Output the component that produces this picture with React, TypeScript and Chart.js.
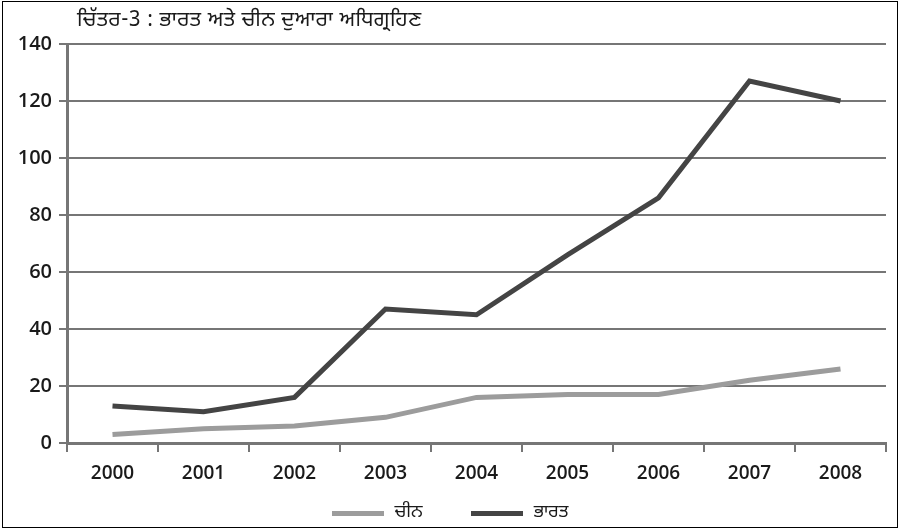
import React, { useEffect, useRef } from "react";
import { Chart, registerables } from "chart.js";

Chart.register(...registerables);

const years = ["2000", "2001", "2002", "2003", "2004", "2005", "2006", "2007", "2008"];
const chinaValues = [3, 5, 6, 9, 16, 17, 17, 22, 26];
const indiaValues = [13, 11, 16, 47, 45, 66, 86, 127, 120];
const yMin = 0;
const yMax = 140;
const yStep = 20;
const titleText = "ਚਿੱਤਰ-3 : ਭਾਰਤ ਅਤੇ ਚੀਨ ਦੁਆਰਾ ਅਧਿਗ੍ਰਹਿਣ";
const chinaLabel = "ਚੀਨ";
const indiaLabel = "ਭਾਰਤ";

const chinaColor = "#9c9c9c";
const indiaColor = "#444444";
const gridColor = "#767676";
const axisColor = "#767676";
const gurmukhiFont = '"Noto Sans Gurmukhi", "Lohit Gurmukhi", "Raavi", "FreeSans", "Noto Sans", sans-serif';
const numFont = '"Open Sans", "Noto Sans", sans-serif';

const legendItems = [
  { label: chinaLabel, color: chinaColor },
  { label: indiaLabel, color: indiaColor },
];

export default function App() {
  const canvasRef = useRef<HTMLCanvasElement | null>(null);

  useEffect(() => {
    const canvas = canvasRef.current;
    if (!canvas) return;
    const chart = new Chart(canvas, {
      type: "line",
      data: {
        labels: years,
        datasets: [
          {
            label: chinaLabel,
            data: chinaValues,
            borderColor: chinaColor,
            backgroundColor: chinaColor,
            borderWidth: 5,
            pointRadius: 0,
            tension: 0,
          },
          {
            label: indiaLabel,
            data: indiaValues,
            borderColor: indiaColor,
            backgroundColor: indiaColor,
            borderWidth: 5,
            pointRadius: 0,
            tension: 0,
          },
        ],
      },
      options: {
        animation: false,
        responsive: false,
        maintainAspectRatio: false,
        layout: { padding: { left: 7, right: 14, top: 44, bottom: 0 } },
        plugins: {
          legend: { display: false },
          title: { display: false },
          tooltip: { enabled: false },
        },
        scales: {
          x: {
            offset: true,
            grid: {
              display: true,
              drawOnChartArea: false,
              drawTicks: true,
              offset: true,
              color: axisColor,
              lineWidth: 2,
              tickLength: 9,
            },
            border: { display: true, color: axisColor, width: 3 },
            ticks: {
              padding: 10,
              color: "#1a1a1a",
              font: { family: numFont, size: 19, weight: 600 },
              maxRotation: 0,
            },
            afterFit: (scale: any) => {
              scale.height = 86;
            },
          },
          y: {
            min: yMin,
            max: yMax,
            ticks: {
              stepSize: yStep,
              padding: 7,
              color: "#1a1a1a",
              font: { family: numFont, size: 20, weight: 600 },
            },
            grid: {
              color: gridColor,
              lineWidth: 2,
              drawTicks: true,
              tickLength: 8,
            },
            border: { display: true, color: axisColor, width: 3 },
            afterFit: (scale: any) => {
              scale.width = 60;
            },
          },
        },
      },
    });
    return () => chart.destroy();
  }, []);

  return (
    <div
      style={{
        position: "fixed",
        left: 0,
        top: 0,
        width: 900,
        height: 529,
        background: "#ffffff",
        overflow: "hidden",
      }}
    >
      <canvas
        ref={canvasRef}
        width={900}
        height={529}
        style={{ position: "absolute", left: 0, top: 0, width: 900, height: 529, display: "block" }}
      />
      <div
        style={{
          position: "absolute",
          left: 77,
          top: 7,
          fontFamily: gurmukhiFont,
          fontSize: 21,
          color: "#1a1a1a",
          whiteSpace: "nowrap",
          lineHeight: "28px",
          letterSpacing: 0.5,
        }}
      >
        {titleText}
      </div>
      <div
        style={{
          position: "absolute",
          left: 0,
          right: 0,
          top: 500,
          height: 26,
          display: "flex",
          justifyContent: "center",
          alignItems: "center",
          fontFamily: gurmukhiFont,
          fontSize: 18,
          color: "#1a1a1a",
        }}
      >
        {legendItems.map((item, i) => (
          <div
            key={item.label}
            style={{ display: "flex", alignItems: "center", marginLeft: i === 0 ? 0 : 48 }}
          >
            <span
              style={{ display: "inline-block", width: 52, height: 5, background: item.color, marginRight: 11 }}
            />
            <span style={{ lineHeight: "26px" }}>{item.label}</span>
          </div>
        ))}
      </div>
      <div
        style={{
          position: "absolute",
          left: 2,
          top: 1,
          width: 896,
          height: 527,
          border: "1px solid #000",
          boxSizing: "border-box",
          pointerEvents: "none",
        }}
      />
    </div>
  );
}
